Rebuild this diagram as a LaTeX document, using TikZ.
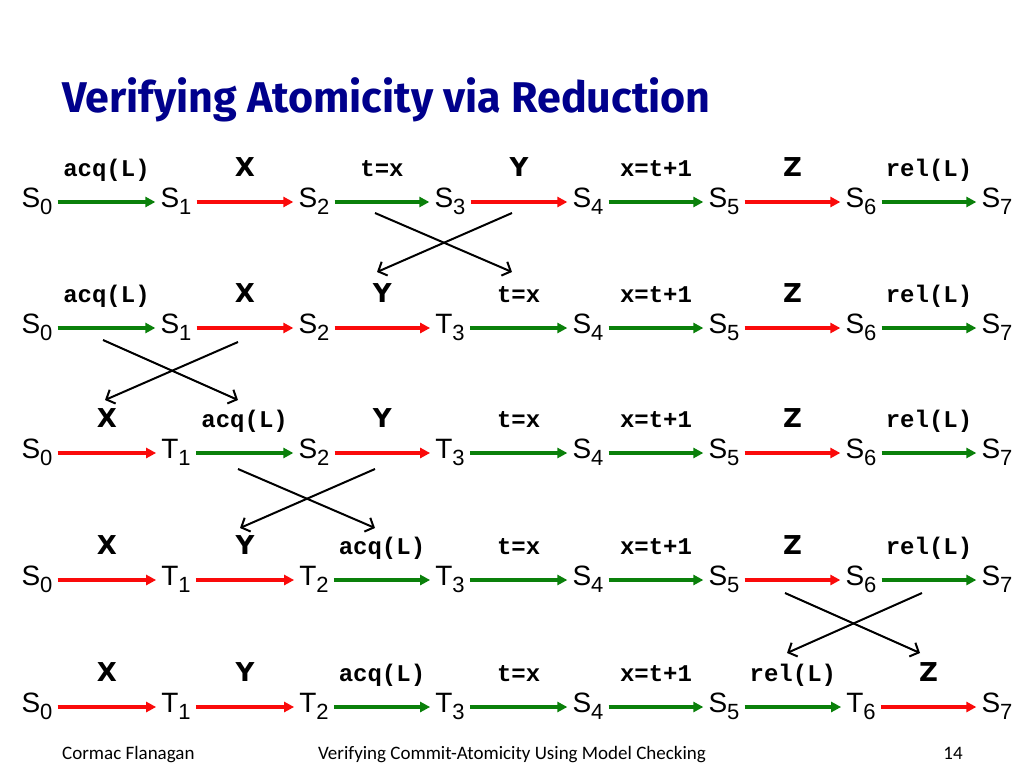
\documentclass[tikz,border=0pt]{standalone}
\usepackage{fontspec}
\setmainfont{Liberation Sans}
\newfontfamily\monofont{Liberation Mono}
\newfontfamily\labfont{DejaVu Sans}
\newfontfamily\titlefont{Fira Sans}
\newfontfamily\footfont{Carlito}
\usetikzlibrary{arrows.meta}
\definecolor{grn}{RGB}{10,128,10}
\definecolor{rd}{RGB}{250,10,10}
\definecolor{ttl}{RGB}{0,0,140}
\newcommand{\St}[2]{#1\raisebox{-7pt}{\fontsize{22}{22}\selectfont #2}}
\newcommand{\lAcq}{\monofont\bfseries\fontsize{24}{24}\selectfont acq(L)}
\newcommand{\lRel}{\monofont\bfseries\fontsize{24}{24}\selectfont rel(L)}
\newcommand{\lTx}{\monofont\bfseries\fontsize{24}{24}\selectfont t=x}
\newcommand{\lXt}{\monofont\bfseries\fontsize{24}{24}\selectfont x=t+1}
\newcommand{\lX}{\labfont\bfseries\fontsize{26}{26}\selectfont X}
\newcommand{\lY}{\labfont\bfseries\fontsize{26}{26}\selectfont Y}
\newcommand{\lZ}{\labfont\bfseries\fontsize{26}{26}\selectfont Z}
\tikzset{
  st/.style={inner xsep=5pt, inner ysep=2pt, anchor=base, font=\fontsize{28}{30}\selectfont},
  arr/.style={line width=3.2pt, -{Triangle[length=10pt,width=10pt]}},
  lb/.style={anchor=base, yshift=26pt, inner sep=0pt},
  cross/.style={draw=black, line width=2pt, -{Straight Barb[length=7pt,width=15pt,line width=2pt]}},
}
\begin{document}
\begin{tikzpicture}[x=1pt,y=-1pt]
\fill[white] (0,0) rectangle (1024,768);
\useasboundingbox (0,0) rectangle (1024,768);

\node[anchor=base west, inner sep=0pt, text=ttl] (title) at (62,112)
  {\titlefont\bfseries\fontsize{43}{46}\selectfont Verifying Atomicity via Reduction};

% row 1
\foreach \i/\x/\s in {0/37/S,1/176/S,2/314/S,3/450/S,4/588/S,5/724/S,6/861/S,7/997/S}
  \node[st] (a\i) at (\x,207) {\St{\s}{\i}};
\foreach \i/\j/\c/\t in {0/1/grn/\lAcq,1/2/rd/\lX,2/3/grn/\lTx,3/4/rd/\lY,4/5/grn/\lXt,5/6/rd/\lZ,6/7/grn/\lRel}
  \draw[arr, draw=\c] ([yshift=5pt]a\i.base east) -- node[lb] (la\i) {\t} ([yshift=5pt]a\j.base west);

% row 2
\foreach \i/\x/\s in {0/37/S,1/176/S,2/314/S,3/450/T,4/588/S,5/724/S,6/861/S,7/997/S}
  \node[st] (b\i) at (\x,333) {\St{\s}{\i}};
\foreach \i/\j/\c/\t in {0/1/grn/\lAcq,1/2/rd/\lX,2/3/rd/\lY,3/4/grn/\lTx,4/5/grn/\lXt,5/6/rd/\lZ,6/7/grn/\lRel}
  \draw[arr, draw=\c] ([yshift=5pt]b\i.base east) -- node[lb] (lb\i) {\t} ([yshift=5pt]b\j.base west);

% row 3
\foreach \i/\x/\s in {0/37/S,1/176/T,2/314/S,3/450/T,4/588/S,5/724/S,6/861/S,7/997/S}
  \node[st] (c\i) at (\x,458) {\St{\s}{\i}};
\foreach \i/\j/\c/\t in {0/1/rd/\lX,1/2/grn/\lAcq,2/3/rd/\lY,3/4/grn/\lTx,4/5/grn/\lXt,5/6/rd/\lZ,6/7/grn/\lRel}
  \draw[arr, draw=\c] ([yshift=5pt]c\i.base east) -- node[lb] (lc\i) {\t} ([yshift=5pt]c\j.base west);

% row 4
\foreach \i/\x/\s in {0/37/S,1/176/T,2/314/T,3/450/T,4/588/S,5/724/S,6/861/S,7/997/S}
  \node[st] (d\i) at (\x,585) {\St{\s}{\i}};
\foreach \i/\j/\c/\t in {0/1/rd/\lX,1/2/rd/\lY,2/3/grn/\lAcq,3/4/grn/\lTx,4/5/grn/\lXt,5/6/rd/\lZ,6/7/grn/\lRel}
  \draw[arr, draw=\c] ([yshift=5pt]d\i.base east) -- node[lb] (ld\i) {\t} ([yshift=5pt]d\j.base west);

% row 5
\foreach \i/\x/\s in {0/37/S,1/176/T,2/314/T,3/450/T,4/588/S,5/724/S,6/861/T,7/997/S}
  \node[st] (e\i) at (\x,712) {\St{\s}{\i}};
\foreach \i/\j/\c/\t in {0/1/rd/\lX,1/2/rd/\lY,2/3/grn/\lAcq,3/4/grn/\lTx,4/5/grn/\lXt,5/6/grn/\lRel,6/7/rd/\lZ}
  \draw[arr, draw=\c] ([yshift=5pt]e\i.base east) -- node[lb] (le\i) {\t} ([yshift=5pt]e\j.base west);

% crossing arrows
\coordinate (p1a) at (375,213); \coordinate (p1b) at (512,272);
\coordinate (p1c) at (512,213); \coordinate (p1d) at (377,272);
\draw[cross] (p1a) -- (p1b); \draw[cross] (p1c) -- (p1d);
\coordinate (p2a) at (103,340); \coordinate (p2b) at (238,400);
\coordinate (p2c) at (238,342); \coordinate (p2d) at (105,400);
\draw[cross] (p2a) -- (p2b); \draw[cross] (p2c) -- (p2d);
\coordinate (p3a) at (238,469); \coordinate (p3b) at (375,528);
\coordinate (p3c) at (375,469); \coordinate (p3d) at (240,528);
\draw[cross] (p3a) -- (p3b); \draw[cross] (p3c) -- (p3d);
\coordinate (p4a) at (785,593); \coordinate (p4b) at (920,653);
\coordinate (p4c) at (922,593); \coordinate (p4d) at (787,653);
\draw[cross] (p4a) -- (p4b); \draw[cross] (p4c) -- (p4d);

% footer
\node[anchor=base west, inner sep=0pt] (f1) at (62,759) {\footfont\fontsize{19}{19}\selectfont Cormac Flanagan};
\node[anchor=base, inner sep=0pt] (f2) at (512,759) {\footfont\fontsize{19}{19}\selectfont Verifying Commit-Atomicity Using Model Checking};
\node[anchor=base, inner sep=0pt] (f3) at (953,759) {\footfont\fontsize{19}{19}\selectfont 14};
\end{tikzpicture}
\end{document}
